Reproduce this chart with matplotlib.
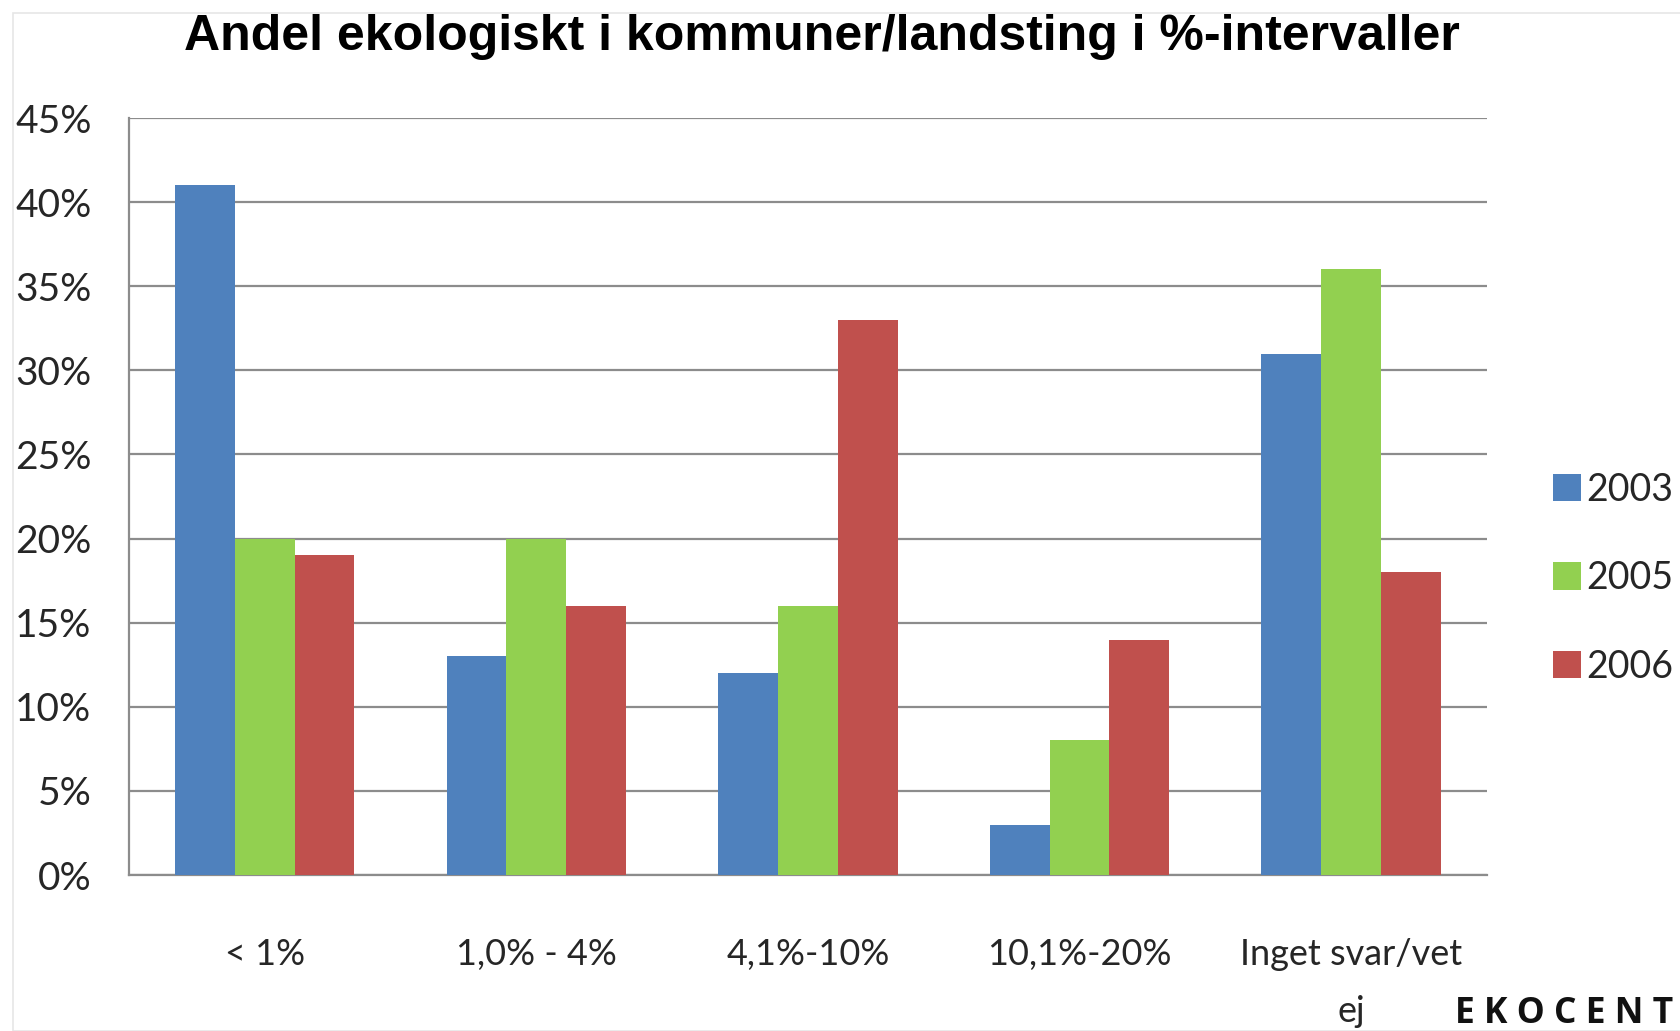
import matplotlib
matplotlib.use("Agg")
import matplotlib.pyplot as plt
import numpy as np
from matplotlib.patches import Rectangle
from matplotlib.ticker import FuncFormatter, MultipleLocator

categories = ["< 1%", "1,0% - 4%", "4,1%-10%", "10,1%-20%", "Inget svar/vet\nej"]
series_names = ["2003", "2005", "2006"]
v2003 = [41, 13, 12, 3, 31]
v2005 = [20, 20, 16, 8, 36]
v2006 = [19, 16, 33, 14, 18]
colors = ["#4F81BD", "#92D050", "#C0504D"]
title = "Andel ekologiskt i kommuner/landsting i %-intervaller"

fig = plt.figure(figsize=(16.8, 10.31), dpi=100)
fig.patch.set_facecolor("white")
# faint chart-area border
fig.patches.append(Rectangle((13/1680, 0), 1.0, 1 - 13/1031, transform=fig.transFigure,
                             fill=False, edgecolor="#e6e6e6", linewidth=1.2))

ax = fig.add_axes([0.0768, 0.1513, 0.885 - 0.0768, 0.8855 - 0.1513])
x = np.arange(len(categories))
w = 0.22
for i, (vals, name) in enumerate(zip([v2003, v2005, v2006], series_names)):
    ax.bar(x + (i - 1) * w, vals, width=w, color=colors[i], label=name, zorder=3)

ax.set_xlim(-0.5, len(categories) - 0.5)
ax.set_ylim(0, 45)
ax.yaxis.set_major_locator(MultipleLocator(5))
ax.yaxis.set_major_formatter(FuncFormatter(lambda v, p: f"{int(round(v))}%"))
ax.grid(axis="y", color="#8c8c8c", linewidth=1.6, zorder=0)
ax.set_axisbelow(True)
for s in ["top", "right"]:
    ax.spines[s].set_visible(False)
for s in ["left", "bottom"]:
    ax.spines[s].set_color("#8c8c8c")
    ax.spines[s].set_linewidth(1.6)
ax.set_xticks(x)
ax.set_xticklabels(categories, fontfamily="Lato", fontsize=26, color="#262626", linespacing=1.92,
                   va="top", multialignment="center")
ax.tick_params(axis="x", length=0, pad=45)
ax.tick_params(axis="y", length=0, pad=27, labelsize=28, labelcolor="#262626")
for lab in ax.get_yticklabels():
    lab.set_fontfamily("Lato")

leg = ax.legend(loc="center left", bbox_to_anchor=(1.024, 0.392), frameon=False,
                prop={"family": "Lato", "size": 27}, handlelength=0.75, handleheight=0.75,
                handletextpad=0.12, labelspacing=1.4)
for t in leg.get_texts():
    t.set_color("#262626")

fig.text(0.489, 0.964, title, ha="center", va="center", fontfamily="Liberation Sans",
         fontweight="bold", fontsize=36, color="black")
fig.text(1455/1680, 1 - 1023/1031, "E K O C E N T", ha="left", va="baseline",
         fontfamily="Open Sans", fontweight="bold", fontsize=25.5, color="#111111")

fig.savefig("out.png", dpi=100)
